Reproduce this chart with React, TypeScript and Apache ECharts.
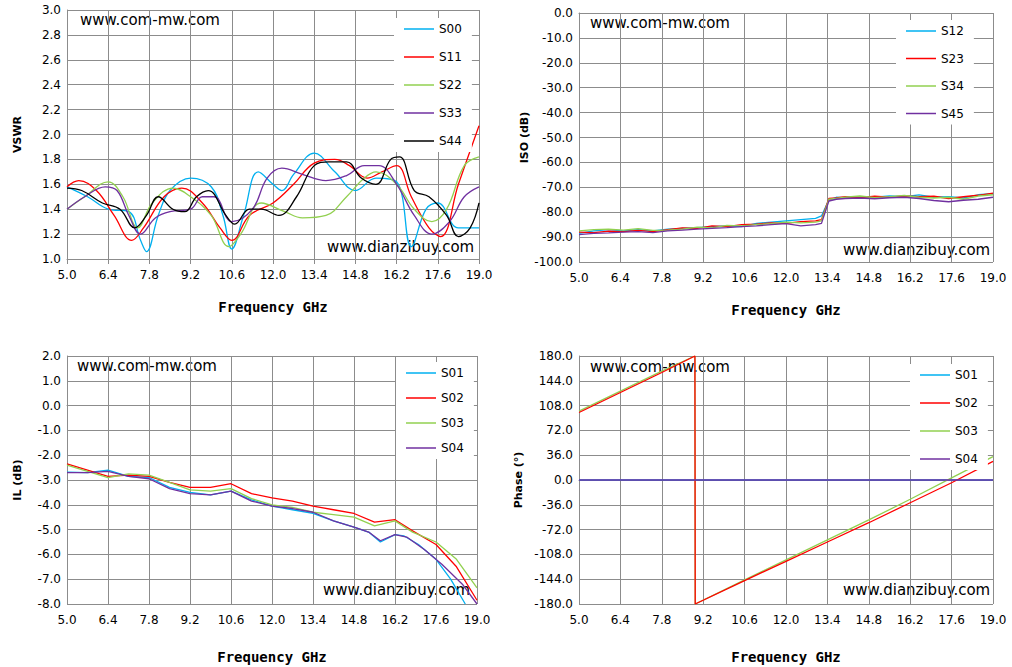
import { useEffect, useRef } from "react";
import * as echarts from "echarts";

// VSWR [GHz, value]
const s00 = [[5.0,1.58],[5.7,1.5],[6.4,1.4],[7.1,1.38],[7.5,1.15],[7.7,1.06],[8.1,1.35],[8.5,1.55],[9.2,1.65],[9.9,1.58],[10.3,1.35],[10.6,1.08],[11.0,1.35],[11.5,1.7],[12.0,1.6],[12.3,1.55],[12.7,1.68],[13.4,1.85],[14.1,1.7],[14.8,1.55],[15.5,1.65],[16.2,1.62],[16.7,1.1],[17.2,1.4],[17.6,1.45],[18.3,1.25],[19.0,1.25]];
const s11 = [[5.0,1.58],[5.4,1.63],[6.0,1.55],[6.6,1.35],[7.2,1.15],[7.6,1.25],[8.3,1.5],[8.9,1.57],[9.6,1.45],[10.2,1.25],[10.6,1.15],[11.2,1.35],[12.0,1.45],[12.7,1.6],[13.4,1.77],[14.1,1.8],[14.6,1.75],[15.2,1.65],[15.7,1.7],[16.2,1.75],[16.7,1.5],[17.3,1.25],[17.7,1.18],[18.3,1.6],[19.0,2.07]];
const s22 = [[5.0,1.4],[5.6,1.5],[6.4,1.62],[6.9,1.5],[7.4,1.25],[7.9,1.45],[8.6,1.57],[9.2,1.5],[9.9,1.35],[10.5,1.1],[10.9,1.2],[11.6,1.45],[12.4,1.38],[13.0,1.33],[13.8,1.35],[14.5,1.5],[15.1,1.65],[15.5,1.7],[16.2,1.6],[16.8,1.4],[17.4,1.3],[17.9,1.4],[18.5,1.75],[19.0,1.82]];
const s33 = [[5.0,1.4],[5.6,1.5],[6.3,1.58],[6.7,1.55],[7.1,1.35],[7.5,1.2],[8.0,1.33],[8.5,1.38],[9.2,1.4],[9.6,1.5],[10.0,1.5],[10.6,1.3],[11.3,1.4],[11.8,1.65],[12.3,1.73],[13.0,1.68],[13.8,1.63],[14.5,1.67],[15.1,1.75],[15.6,1.75],[16.2,1.6],[16.8,1.35],[17.4,1.2],[18.0,1.3],[18.5,1.5],[19.0,1.58]];
const s44 = [[5.0,1.57],[5.5,1.55],[6.2,1.45],[6.8,1.4],[7.3,1.25],[7.7,1.35],[8.1,1.5],[8.6,1.4],[9.0,1.38],[9.4,1.5],[9.8,1.55],[10.4,1.35],[10.7,1.28],[11.2,1.4],[11.6,1.4],[12.2,1.35],[12.8,1.5],[13.4,1.75],[13.9,1.78],[14.5,1.78],[15.0,1.65],[15.5,1.6],[16.0,1.8],[16.3,1.82],[16.8,1.55],[17.3,1.5],[17.9,1.35],[18.3,1.18],[18.7,1.25],[19.0,1.45]];

// ISO (dB)
const s12 = [[5.0,-88.5],[5.5,-87.5],[6.0,-87],[6.5,-87.5],[7.0,-87],[7.5,-87.5],[8.0,-86.8],[8.5,-86.5],[9.0,-86.2],[9.5,-85.8],[10.0,-85.5],[10.5,-85.8],[11.0,-84.5],[11.5,-84],[12.0,-83.5],[12.5,-83],[13.0,-82.5],[13.2,-81.5],[13.45,-75],[13.7,-74],[14.0,-74.2],[14.5,-73.8],[15.0,-74],[15.5,-73.5],[16.0,-73.8],[16.5,-73],[17.0,-74],[17.5,-73.8],[18.0,-74.3],[18.5,-73],[19.0,-72.5]];
const s23 = [[5.0,-88],[5.5,-88.2],[6.0,-87.6],[6.5,-87.8],[7.0,-87.3],[7.5,-87.8],[8.0,-87],[8.5,-86.3],[9.0,-86.5],[9.5,-85.5],[10.0,-85.8],[10.5,-85],[11.0,-84.8],[11.5,-84.3],[12.0,-84.5],[12.5,-83.8],[13.0,-83.5],[13.2,-83],[13.45,-74.5],[13.7,-74.3],[14.0,-73.8],[14.5,-74.2],[15.0,-73.6],[15.5,-74],[16.0,-73.5],[16.5,-73.8],[17.0,-73.6],[17.5,-74.5],[18.0,-73.8],[18.5,-73.2],[19.0,-72.3]];
const s34 = [[5.0,-87.5],[5.5,-87],[6.0,-86.8],[6.5,-87.2],[7.0,-86.6],[7.5,-87.3],[8.0,-87.2],[8.5,-86.8],[9.0,-86],[9.5,-86.3],[10.0,-85.3],[10.5,-85.5],[11.0,-85],[11.5,-84.6],[12.0,-84],[12.5,-84.3],[13.0,-84],[13.2,-83.5],[13.45,-74.8],[13.7,-74.5],[14.0,-74],[14.5,-73.5],[15.0,-74.2],[15.5,-73.8],[16.0,-73.3],[16.5,-74],[17.0,-74.3],[17.5,-74],[18.0,-74.8],[18.5,-73.5],[19.0,-73]];
const s45 = [[5.0,-89],[5.5,-88.5],[6.0,-88.3],[6.5,-88],[7.0,-87.8],[7.5,-88.2],[8.0,-87.5],[8.5,-87.2],[9.0,-86.8],[9.5,-86.5],[10.0,-86.2],[10.5,-85.8],[11.0,-85.5],[11.5,-85],[12.0,-84.6],[12.5,-85.5],[13.0,-85],[13.2,-84.5],[13.45,-75.5],[13.7,-74.8],[14.0,-74.5],[14.5,-74.3],[15.0,-74.6],[15.5,-74.2],[16.0,-74],[16.5,-74.5],[17.0,-75.3],[17.5,-75.8],[18.0,-75.2],[18.5,-74.8],[19.0,-74]];

// IL (dB)
const s01 = [[5.0,-2.68],[5.7,-2.7],[6.4,-2.6],[7.1,-2.85],[7.8,-2.9],[8.5,-3.3],[9.2,-3.5],[9.9,-3.6],[10.6,-3.45],[11.3,-3.8],[12.0,-4.05],[12.7,-4.2],[13.4,-4.35],[14.1,-4.65],[14.8,-4.9],[15.3,-5.1],[15.7,-5.5],[16.2,-5.2],[16.5,-5.25],[17.0,-5.6],[17.6,-6.2],[18.1,-7.0],[18.6,-8.0]];
const s02 = [[5.0,-2.35],[5.7,-2.6],[6.4,-2.85],[7.1,-2.8],[7.8,-2.85],[8.5,-3.1],[9.2,-3.3],[9.9,-3.3],[10.6,-3.15],[11.3,-3.55],[12.0,-3.72],[12.7,-3.85],[13.4,-4.05],[14.1,-4.2],[14.8,-4.35],[15.5,-4.7],[16.2,-4.6],[16.8,-5.05],[17.6,-5.6],[18.3,-6.5],[19.0,-7.85]];
const s03 = [[5.0,-2.4],[5.7,-2.65],[6.4,-2.9],[7.1,-2.75],[7.8,-2.8],[8.5,-3.1],[9.2,-3.4],[9.9,-3.45],[10.6,-3.35],[11.3,-3.75],[12.0,-4.0],[12.7,-4.1],[13.4,-4.3],[14.1,-4.4],[14.8,-4.5],[15.5,-4.85],[16.2,-4.65],[16.8,-5.1],[17.6,-5.5],[18.3,-6.2],[19.0,-7.35]];
const s04 = [[5.0,-2.7],[5.7,-2.7],[6.4,-2.65],[7.1,-2.85],[7.8,-2.95],[8.5,-3.35],[9.2,-3.55],[9.9,-3.6],[10.6,-3.45],[11.3,-3.85],[12.0,-4.05],[12.7,-4.15],[13.4,-4.3],[14.1,-4.65],[14.8,-4.9],[15.3,-5.1],[15.7,-5.45],[16.2,-5.2],[16.6,-5.3],[17.2,-5.8],[17.8,-6.4],[18.5,-7.2],[19.0,-8.0]];

// Phase (°)
const p01 = [[5.0,0],[19.0,0]];
const p02 = [[5.0,98],[6.4,127],[7.8,156],[8.92,180],[8.93,-180],[10.6,-146],[12.0,-118],[13.4,-90],[14.8,-62],[16.2,-33],[17.6,-4],[19.0,27]];
const p03 = [[5.0,100],[6.4,129],[7.8,158],[8.92,180],[8.93,-180],[10.6,-145],[12.0,-116],[13.4,-87],[14.8,-58],[16.2,-28],[17.6,3],[19.0,34]];
const p04 = [[5.0,0],[19.0,0]];

const xStart = 5.0;
const colors = ["#00b0f0", "#ff0000", "#92d050", "#7030a0", "#000000"];

const grids = [
  { left: 67, top: 10, width: 412, height: 249 },
  { left: 579, top: 13, width: 414, height: 249 },
  { left: 67, top: 356, width: 410, height: 248 },
  { left: 579, top: 356, width: 414, height: 248 },
];

const yAxes = [
  { name: "VSWR", min: 1, max: 3, interval: 0.2, gap: 44 },
  { name: "ISO (dB)", min: -100, max: 0, interval: 10, gap: 48 },
  { name: "IL (dB)", min: -8, max: 2, interval: 1, gap: 44 },
  { name: "Phase (°)", min: -180, max: 180, interval: 36, gap: 55 },
];

const panels = [
  { names: ["S00", "S11", "S22", "S33", "S44"], data: [s00, s11, s22, s33, s44], smooth: true, legend: { left: 394, top: 18, gap: 14 } },
  { names: ["S12", "S23", "S34", "S45"], data: [s12, s23, s34, s45], smooth: false, legend: { left: 896, top: 20, gap: 13.5 } },
  { names: ["S01", "S02", "S03", "S04"], data: [s01, s02, s03, s04], smooth: false, legend: { left: 396, top: 362, gap: 11 } },
  { names: ["S01", "S02", "S03", "S04"], data: [p01, p02, p03, p04], smooth: false, legend: { left: 910, top: 364, gap: 14 } },
];

const grey = "#8c8c8c";
const lblFont = { color: "#000", fontSize: 12, fontFamily: "DejaVu Sans" };

export default function App() {
  const ref = useRef<HTMLDivElement>(null);

  useEffect(() => {
    if (!ref.current) return;
    const chart = echarts.init(ref.current, undefined, { renderer: "svg" });

    const series: any[] = [];
    panels.forEach((p, gi) => {
      // draw green under red in phase plot
      const order = gi === 3 ? [0, 2, 1, 3] : p.names.map((_, i) => i);
      order.forEach((i) => {
        series.push({
          name: p.names[i],
          type: "line",
          xAxisIndex: gi,
          yAxisIndex: gi,
          symbol: "none",
          smooth: p.smooth ? 0.4 : false,
          data: p.data[i].map(([x, y]) => [x - xStart, y]),
          lineStyle: { width: 1.3, color: colors[i] },
          itemStyle: { color: colors[i] },
        });
      });
    });

    const option: any = {
      animation: false,
      grid: grids.map((g) => ({ ...g, containLabel: false })),
      xAxis: grids.map((_, gi) => ({
        type: "value",
        gridIndex: gi,
        min: 0,
        max: 14,
        interval: 1.4,
        name: "Frequency GHz",
        nameLocation: "middle",
        nameGap: gi < 2 ? 41 : 46,
        nameTextStyle: { fontFamily: "DejaVu Sans Mono", fontWeight: "bold", fontSize: 14, color: "#000" },
        axisLine: { lineStyle: { color: grey } },
        axisTick: { show: true, length: 5, lineStyle: { color: grey } },
        splitLine: { show: true, lineStyle: { color: grey, width: 1 } },
        axisLabel: { ...lblFont, margin: 10, formatter: (v: number) => (v + xStart).toFixed(1) },
      })),
      yAxis: yAxes.map((a, gi) => ({
        type: "value",
        gridIndex: gi,
        min: a.min,
        max: a.max,
        interval: a.interval,
        name: a.name,
        nameLocation: "middle",
        nameGap: a.gap,
        nameTextStyle: { fontFamily: "DejaVu Sans", fontWeight: "bold", fontSize: 11, color: "#000" },
        axisLine: { show: true, lineStyle: { color: grey } },
        axisTick: { show: false },
        splitLine: { show: true, lineStyle: { color: grey, width: 1 } },
        axisLabel: { ...lblFont, margin: 6, formatter: (v: number) => v.toFixed(1) },
      })),
      legend: panels.map((p) => ({
        data: p.names.map((n) => ({ name: n, icon: "rect" })),
        orient: "vertical",
        left: p.legend.left,
        top: p.legend.top,
        itemGap: p.legend.gap,
        itemWidth: 30,
        itemHeight: 1.5,
        backgroundColor: "#fff",
        padding: [4, 10, 4, 10],
        textStyle: { ...lblFont, lineHeight: 14 },
        selectedMode: false,
      })),
      graphic: [
        { type: "text", left: 80, top: 12, style: { text: "www.com-mw.com", fontSize: 15, fontFamily: "DejaVu Sans", fill: "#000" } },
        { type: "text", left: 327, top: 239, style: { text: "www.dianzibuy.com", fontSize: 15, fontFamily: "DejaVu Sans", fill: "#000" } },
        { type: "text", left: 590, top: 15, style: { text: "www.com-mw.com", fontSize: 15, fontFamily: "DejaVu Sans", fill: "#000" } },
        { type: "text", left: 843, top: 242, style: { text: "www.dianzibuy.com", fontSize: 15, fontFamily: "DejaVu Sans", fill: "#000" } },
        { type: "text", left: 77, top: 358, style: { text: "www.com-mw.com", fontSize: 15, fontFamily: "DejaVu Sans", fill: "#000" } },
        { type: "text", left: 323, top: 582, style: { text: "www.dianzibuy.com", fontSize: 15, fontFamily: "DejaVu Sans", fill: "#000" } },
        { type: "text", left: 590, top: 359, style: { text: "www.com-mw.com", fontSize: 15, fontFamily: "DejaVu Sans", fill: "#000" } },
        { type: "text", left: 843, top: 582, style: { text: "www.dianzibuy.com", fontSize: 15, fontFamily: "DejaVu Sans", fill: "#000" } },
      ],
      series,
    };

    chart.setOption(option);
    return () => chart.dispose();
  }, []);

  return <div ref={ref} style={{ position: "fixed", left: 0, top: 0, width: 1012, height: 667, background: "#fff" }} />;
}
